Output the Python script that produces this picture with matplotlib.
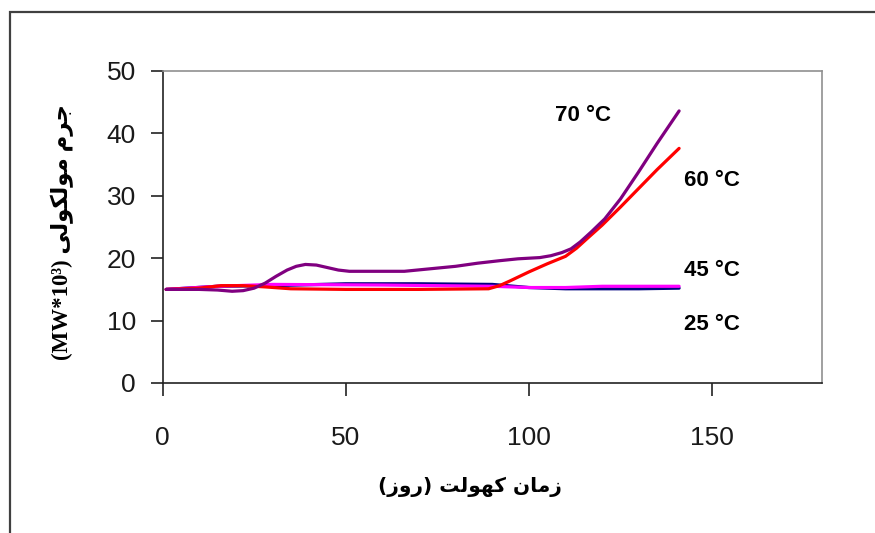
import matplotlib
matplotlib.use("Agg")
import matplotlib.pyplot as plt
from matplotlib.patches import Rectangle

# Aging time (days) and molecular weight (MW*10^3) for each aging temperature
days_25 = [1, 15, 30, 50, 70, 90, 100, 110, 130, 141]
mw_25 = [15.0, 15.5, 15.6, 15.9, 15.9, 15.8, 15.3, 15.1, 15.1, 15.2]

days_45 = [1, 15, 30, 60, 90, 100, 110, 120, 141]
mw_45 = [15.0, 15.5, 15.8, 15.7, 15.5, 15.3, 15.3, 15.5, 15.5]

days_60 = [1, 10, 16, 22, 28, 35, 50, 70, 89, 92, 95, 100, 105, 110, 113, 116, 120, 125, 130, 135, 141]
mw_60 = [15.0, 15.2, 15.6, 15.6, 15.4, 15.1, 15.0, 15.0, 15.1, 15.6, 16.4, 17.8, 19.1, 20.3, 21.6, 23.2, 25.3, 28.2, 31.2, 34.2, 37.6]

days_70 = [1, 10, 15, 19, 22, 25, 28, 31, 34, 36.5, 39, 42, 45, 48, 51, 66, 73, 80, 86, 92, 97, 103, 106, 109, 111.5, 114, 117, 120.7, 125, 129.8, 135, 141]
mw_70 = [15.0, 15.0, 14.9, 14.7, 14.8, 15.2, 16.0, 17.1, 18.1, 18.7, 19.0, 18.9, 18.5, 18.1, 17.9, 17.9, 18.3, 18.7, 19.2, 19.6, 19.9, 20.1, 20.4, 20.9, 21.5, 22.6, 24.2, 26.3, 29.5, 33.7, 38.4, 43.6]

x_ticks = [0, 50, 100, 150]
y_ticks = [0, 10, 20, 30, 40, 50]

series_labels = ["25 °C", "45 °C", "60 °C", "70 °C"]
label_pos = [(142.3, 9.3), (142.3, 18.0), (142.3, 32.5), (107.2, 42.8)]

# Persian axis titles written in presentation forms (visual order)
xlabel_text = "(\uFEAF\uFEED\uFEAD) \uFE96\uFEDF\uFEEE\uFEEC\uFB90 \uFEE5\uFE8E\uFEE3\uFEAF"
ylabel_text = "(MW*10\u00B3) \uFBFD\uFEDF\uFEEE\uFB91\uFEDF\uFEEE\uFEE3 \uFEE1\uFEAE\uFE9F"

fig = plt.figure(figsize=(8.75, 5.33), dpi=100)
fig.patch.set_facecolor("white")

# outer frame of the figure
fig.add_artist(Rectangle((9.5 / 875, -0.05), 1.2, 1 - 12 / 533 + 0.05,
                         transform=fig.transFigure, fill=False,
                         edgecolor="#404040", linewidth=1.6))

ax = fig.add_axes([162.5 / 875, 1 - 383 / 533, (822 - 162.5) / 875, (383 - 71) / 533])

lw = 2.3
style = dict(lw=lw, solid_capstyle="round", solid_joinstyle="round")
ax.plot(days_25, mw_25, color="#000080", **style)
ax.plot(days_45, mw_45, color="#FF00FF", **style)
ax.plot(days_60, mw_60, color="#FF0000", **style)
ax.plot(days_70, mw_70, color="#800080", **style)

for txt, (tx, ty) in zip(series_labels, label_pos):
    ax.text(tx, ty, txt, fontsize=16, fontweight="bold", family=["Liberation Sans", "DejaVu Sans"],
            ha="left", va="center", color="black")

ax.set_xlim(0, 180)
ax.set_ylim(0, 50)
ax.set_xticks(x_ticks)
ax.set_yticks(y_ticks)

for side in ("top", "right"):
    ax.spines[side].set_color("#909090")
    ax.spines[side].set_linewidth(1.2)
for side in ("left", "bottom"):
    ax.spines[side].set_color("#222222")
    ax.spines[side].set_linewidth(1.2)

ax.tick_params(axis="both", direction="out", length=9, width=1.2, color="#222222",
               labelsize=19, labelcolor="#1a1a1a")
ax.tick_params(axis="x", pad=22)
ax.tick_params(axis="y", pad=10)
for lab in ax.get_xticklabels() + ax.get_yticklabels():
    lab.set_family(["Liberation Sans", "DejaVu Sans"])

fig.text(470 / 875, 1 - 487 / 533, xlabel_text, fontsize=14.5, fontweight="bold",
         family=["DejaVu Sans"], ha="center", va="center")
fig.text(62 / 875, 1 - 232 / 533, ylabel_text, fontsize=16.5, fontweight="bold",
         family=["Liberation Serif", "DejaVu Sans"], ha="center", va="center", rotation=90)

fig.savefig("out.png", dpi=100)
